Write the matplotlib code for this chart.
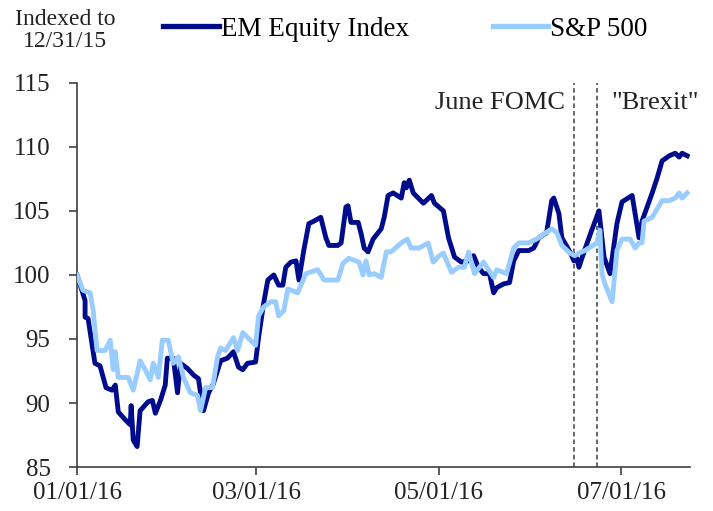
import matplotlib
matplotlib.use("Agg")
import matplotlib.pyplot as plt
import matplotlib.dates as mdates
import pandas as pd

plt.rcParams['font.family'] = ['Liberation Serif', 'DejaVu Serif']

start = pd.Timestamp('2016-01-01')

em_days = [0, 2.7, 2.7, 3.7, 6.0, 7.7, 9.7, 11.7, 12.8, 13.8, 16.1, 17.8, 18.1, 18.8, 20.1, 21.1,
           23.8, 25.2, 26.2, 27.9, 29.5, 30.2, 32.2, 33.6, 34.6, 36.9, 38.9, 40.6, 41.3, 42.3,
           44.0, 45.6, 48.0, 50.3, 52.3, 54.0, 55.4, 57.0, 59.7, 60.7, 62.4, 63.8, 65.8, 67.4,
           68.8, 69.8, 71.5, 73.2, 74.2, 75.8, 77.5, 79.2, 81.5, 83.2, 84.2, 87.2, 88.3, 89.9,
           90.6, 91.6, 94.0, 95.0, 96.0, 97.3, 99.0, 101.7, 102.7, 104.0, 105.7, 108.4, 109.4,
           110.1, 111.1, 112.4, 114.1, 115.8, 118.5, 119.5, 122.5, 124.2, 126.2, 128.5, 130.9,
           132.6, 134.2, 135.9, 137.9, 139.3, 140.3, 142.6, 144.6, 146.0, 147.7, 151.0, 152.7,
           154.4, 157.0, 158.7, 159.4, 161.1, 162.1, 164.8, 166.1, 167.1, 167.8, 169.5, 172.1,
           174.5, 176.2, 178.2, 180.5, 182.2, 185.6, 187.9, 188.9, 192.3, 194.0, 195.6, 198.0,
           200.0, 201.3, 202.3, 204.0]
em_vals = [100.0, 98.0, 96.7, 96.6, 93.1, 92.9, 91.2, 91.0, 91.4, 89.3, 88.7, 88.3, 89.8, 87.1,
           86.6, 89.4, 90.1, 90.2, 89.2, 90.2, 91.4, 93.5, 93.5, 90.8, 93.1, 92.7, 92.2, 91.9,
           90.8, 89.4, 90.8, 91.5, 93.3, 93.5, 94.0, 92.8, 92.6, 93.1, 93.2, 95.1, 97.8, 99.6,
           100.0, 99.2, 99.2, 100.6, 101.0, 101.1, 99.6, 101.9, 104.0, 104.2, 104.5, 102.9,
           102.3, 102.3, 102.5, 105.3, 105.4, 104.1, 104.1, 103.2, 102.1, 101.8, 102.8, 103.6,
           104.5, 106.2, 106.4, 106.0, 107.2, 106.8, 107.4, 106.4, 106.0, 105.6, 106.2, 105.6,
           105.0, 102.9, 101.4, 101.0, 101.1, 101.5, 100.6, 100.1, 100.1, 98.6, 99.0, 99.3,
           99.4, 101.1, 101.9, 101.9, 102.1, 102.9, 103.3, 105.8, 106.0, 104.8, 102.9, 101.8,
           101.1, 101.3, 100.6, 101.8, 103.5, 105.0, 101.4, 100.1, 104.0, 105.7, 106.2, 102.9,
           104.2, 106.4, 107.6, 108.9, 109.3, 109.5, 109.2, 109.5, 109.3]

sp_days = [0, 2.0, 4.4, 5.4, 6.7, 9.4, 11.1, 12.1, 12.8, 13.8, 17.1, 18.8, 21.1, 22.8, 24.5, 25.5,
           27.2, 28.5, 30.5, 32.2, 33.9, 35.6, 37.9, 40.3, 41.3, 43.0, 45.3, 47.0, 48.0, 49.7,
           52.3, 53.7, 55.4, 59.7, 60.7, 62.4, 64.8, 66.4, 67.4, 69.1, 70.5, 73.8, 76.5, 80.5,
           82.6, 87.2, 88.9, 90.9, 94.3, 95.6, 96.6, 97.7, 99.3, 101.7, 103.4, 105.0, 108.4,
           110.4, 111.7, 114.4, 117.4, 119.1, 121.1, 122.5, 125.2, 127.5, 129.5, 130.9, 132.9,
           135.9, 137.6, 139.3, 140.3, 143.6, 146.0, 147.7, 151.0, 153.7, 158.7, 160.4, 162.1,
           164.8, 166.4, 167.8, 169.8, 173.8, 174.8, 175.5, 176.5, 178.9, 180.5, 182.2, 184.9,
           186.6, 187.9, 188.9, 189.6, 192.3, 194.6, 195.6, 198.0, 200.0, 201.3, 202.3, 204.0]
sp_vals = [100.0, 98.8, 98.6, 97.2, 94.1, 94.1, 94.9, 92.6, 94.0, 92.0, 92.0, 91.0, 93.3, 92.6,
           91.8, 93.1, 92.0, 94.9, 94.9, 93.1, 93.6, 92.0, 90.8, 90.6, 89.4, 91.2, 91.2, 93.6,
           94.3, 94.1, 95.1, 94.1, 95.5, 94.5, 96.8, 97.5, 97.9, 97.9, 96.8, 97.2, 98.9, 98.6,
           100.1, 100.4, 99.6, 99.6, 100.9, 101.3, 101.0, 100.0, 101.1, 100.0, 100.1, 99.8,
           101.8, 101.8, 102.5, 102.8, 102.1, 102.1, 102.5, 101.0, 101.5, 101.7, 100.2, 100.6,
           100.6, 101.8, 100.1, 101.0, 100.4, 99.8, 100.4, 100.1, 102.1, 102.5, 102.5, 102.8,
           103.6, 103.3, 102.3, 101.7, 101.5, 101.7, 101.9, 102.5, 103.5, 100.1, 99.3, 97.9,
           101.9, 102.8, 102.8, 102.1, 102.5, 102.5, 104.2, 104.5, 105.4, 105.8, 105.8, 106.0,
           106.4, 106.0, 106.4]

event_dates = ['2016-06-15', '2016-06-23']
event_labels = ['June FOMC', '"Brexit"']
series_names = ['EM Equity Index', 'S&P 500']
y_ticks = [85, 90, 95, 100, 105, 110, 115]
x_ticks = ['2016-01-01', '2016-03-01', '2016-05-01', '2016-07-01']

em_x = [start + pd.Timedelta(days=d) for d in em_days]
sp_x = [start + pd.Timedelta(days=d) for d in sp_days]

fig = plt.figure(figsize=(7.13, 5.11), dpi=100)
ax = fig.add_axes([0.108, 0.086, 0.860, 0.752])

navy = '#000C8C'
light = '#99CCFF'
txt = '#222222'
ax.plot(em_x, em_vals, color=navy, lw=3.5, solid_joinstyle='round', zorder=2, label=series_names[0])
ax.plot(sp_x, sp_vals, color=light, lw=3.5, solid_joinstyle='round', zorder=3, label=series_names[1])

for d in event_dates:
    ax.axvline(pd.Timestamp(d), color='#404040', lw=1.1, ls=(0, (3, 2)), zorder=1)

ax.set_ylim(85, 115)
ax.set_xlim(pd.Timestamp('2016-01-01'), pd.Timestamp('2016-07-24'))
ax.set_yticks(y_ticks)
ax.set_xticks([pd.Timestamp(t) for t in x_ticks])
ax.xaxis.set_major_formatter(mdates.DateFormatter('%m/%d/%y'))

for s in ['top', 'right']:
    ax.spines[s].set_visible(False)
for s in ['left', 'bottom']:
    ax.spines[s].set_color('#404040')
    ax.spines[s].set_linewidth(1.2)
ax.tick_params(axis='both', direction='out', length=6, width=1.2, color='#404040',
               labelsize=18, labelcolor=txt)
ax.tick_params(axis='x', pad=5)
ax.tick_params(axis='y', pad=13)

ax.text(pd.Timestamp(event_dates[0]) - pd.Timedelta(days=3), 113.4, event_labels[0],
        ha='right', va='center', fontsize=19, color=txt)
ax.text(pd.Timestamp(event_dates[1]) + pd.Timedelta(days=4.5), 113.4, event_labels[1],
        ha='left', va='center', fontsize=19, color=txt)

fig.text(0.091, 0.940, 'Indexed to\n12/31/15', ha='center', va='center', fontsize=17,
         color=txt, linespacing=1.1)

handles, labels = ax.get_legend_handles_labels()
leg = fig.legend(handles, labels, loc='center left',
                 bbox_to_anchor=(0.2286, 0.943), ncol=2, frameon=False, fontsize=19.5,
                 borderpad=0, borderaxespad=0, handlelength=2.05, handletextpad=0.08,
                 columnspacing=3.1)
for line in leg.get_lines():
    line.set_linewidth(3.8)

fig.savefig('out.png', dpi=100)
